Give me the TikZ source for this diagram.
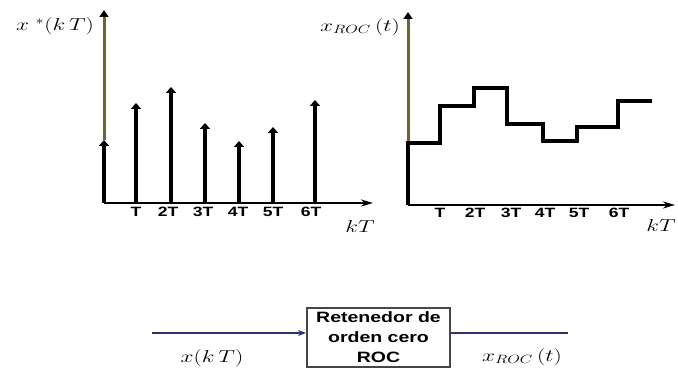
\documentclass[tikz,border=0pt]{standalone}
\usepackage{fontspec}
\setsansfont{Liberation Sans}[FakeStretch=1.3]
\usetikzlibrary{calc, positioning}
\usetikzlibrary{arrows.meta}

\definecolor{axisolive}{RGB}{110,102,50}
\definecolor{signavy}{RGB}{48,48,110}
\definecolor{boxgray}{RGB}{70,70,70}

\tikzset{
  mathlbl/.style={inner sep=0pt, xscale=1.35, font=\fontsize{17}{20}\selectfont},
  ticklbl/.style={anchor=north, inner sep=0pt, font=\sffamily\bfseries\fontsize{13.5}{15}\selectfont},
  axisline/.style={line width=2pt, -{Stealth[length=12pt,width=7pt]}},
  oliveaxis/.style={axisolive, line width=3pt, -{Triangle[length=7pt,width=9pt,color=black]}},
  stem/.style={line width=3.2pt, -{Triangle[length=6pt,width=10pt]}},
  hold/.style={line width=3.2pt, line join=miter},
  zohbox/.style={draw=boxgray, line width=2pt, minimum width=143pt, minimum height=59pt,
    align=center, font=\sffamily\bfseries\fontsize{15}{20}\selectfont},
  sigline/.style={signavy, line width=2pt},
}

\begin{document}
\begin{tikzpicture}[x=1pt, y=1pt]
\useasboundingbox (0,0) rectangle (678,369);

% sampled signal
\begin{scope}[shift={(104,166)}]
  \draw[oliveaxis] (0,63) -- (0,193);
  \draw[axisline] (0,0) -- (269,0);
  \foreach \x/\h in {0/63,32/100,67/116,101/80,135/62,169/76,211/103}
    \draw[stem] (\x,0) -- (\x,\h);
  \foreach \x/\t in {32/T,64/2T,99/3T,134/4T,169/5T,207/6T}
    \node[ticklbl] at (\x,-4) {\t};
\end{scope}
\node[mathlbl] (xstar) at (55,343) {$x\;{}^{*}(k\,T)$};
\node[mathlbl] (kTa) at (360,142) {$kT$};

% zero order hold output
\begin{scope}[shift={(408,164)}]
  \draw[oliveaxis] (0,62) -- (0,193);
  \draw[axisline] (0,0) -- (267,0);
  \draw[hold] (0,0) -- (0,62) -- (32,62) -- (32,99) -- (66,99) -- (66,117) -- (99,117)
    -- (99,81) -- (135,81) -- (135,64) -- (169,64) -- (169,78) -- (210,78) -- (210,104) -- (244,104);
  \foreach \x/\t in {32/T,67/2T,103/3T,137/4T,171/5T,211/6T}
    \node[ticklbl] at (\x,-3) {\t};
\end{scope}
\node[mathlbl] (xroc) at (360,342) {$x_{ROC}\,(t)$};
\node[mathlbl] (kTb) at (661,143) {$kT$};

% block
\node[zohbox] (zoh) at (378.5,31.5) {Retenedor de\\orden cero\\ROC};
\coordinate (in) at (152,36);
\coordinate (out) at (568,36);
\draw[sigline, -{Stealth[length=8pt,width=6pt]}] (in) -- (in -| zoh.west);
\draw[sigline] (zoh.east |- out) -- (out);
\node[mathlbl] (xin) at (212,11) {$x(k\,T)$};
\node[mathlbl] (xout) at (522,12) {$x_{ROC}\,(t)$};
\end{tikzpicture}
\end{document}
